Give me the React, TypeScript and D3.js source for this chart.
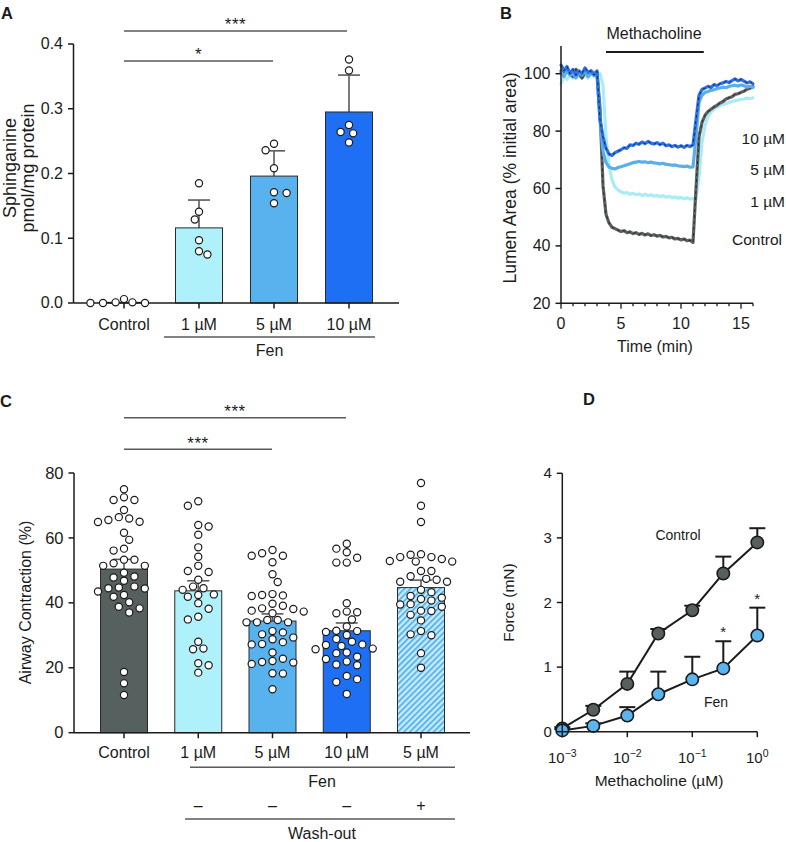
import React from "react";
import * as d3 from "d3";

const FONT = "'Liberation Sans', Arial, Helvetica, sans-serif";
const INK = "#1b1b1b";
const ERR = "#5a5a5a";

// ---------------- Panel A data ----------------
const A_LABELS = ["Control", "1 µM", "5 µM", "10 µM"];
const A_MEAN = [0.001, 0.116, 0.196, 0.295];
const A_SD = [0, 0.043, 0.039, 0.057];
const A_PTS_CONTROL = [0.0, 0.006, 0.0, 0.001, 0.0, 0.001];
const A_PTS_1UM = [0.185, 0.141, 0.129, 0.097, 0.075, 0.08];
const A_PTS_5UM = [0.236, 0.246, 0.208, 0.171, 0.17, 0.154];
const A_PTS_10UM = [0.376, 0.359, 0.275, 0.264, 0.262, 0.248];
const A_TICKS = [0, 0.1, 0.2, 0.3, 0.4];

// ---------------- Panel B data ----------------
const B_TIME = [
  0, 0.25, 0.5, 0.75, 1, 1.25, 1.5, 1.75, 2, 2.25, 2.5, 2.75, 3, 3.25, 3.5, 3.75,
  4, 4.25, 4.5, 4.75, 5, 5.25, 5.5, 5.75, 6, 6.25, 6.5, 6.75, 7, 7.25, 7.5, 7.75,
  8, 8.25, 8.5, 8.75, 9, 9.25, 9.5, 9.75, 10, 10.25, 10.5, 10.75, 11, 11.25, 11.5, 11.75,
  12, 12.25, 12.5, 12.75, 13, 13.25, 13.5, 13.75, 14, 14.25, 14.5, 14.75, 15, 15.25, 15.5, 15.75, 16,
];
const B_CONTROL = [
  101, 99.5, 102, 100, 99, 101.5, 100, 98.5, 100.5, 99.5, 101, 100, 100.5, 88, 61, 51,
  48, 46.5, 46, 45.5, 45, 45.3, 44.6, 44.9, 44.3, 44.6, 44, 44.4, 43.8, 44.2, 43.6, 43.9,
  43.4, 43.7, 43.1, 43.3, 42.8, 43, 42.4, 42.6, 42.1, 42.4, 41.8, 42, 41.2, 60, 78, 83,
  85.5, 86.8, 87.6, 88.4, 89, 89.8, 90.3, 91.2, 91.6, 92, 92.8, 93, 93.5, 93.9, 94.6, 94.9, 95.5,
];
const B_10UM = [
  103, 101, 102.5, 100, 101.5, 99.5, 101, 100, 102, 100.5, 101, 99.5, 101, 84, 78, 74,
  72, 71.5, 72.5, 73, 73.5, 74.2, 74, 75.2, 75, 75.8, 75.4, 76.2, 75.6, 76.4, 75.8, 75.5,
  76, 75.3, 75.8, 74.9, 75.2, 74.6, 75, 74.4, 74.9, 74.3, 75, 74.6, 75.2, 84, 92.5, 94.5,
  95, 95.6, 95.2, 96.2, 95.8, 96.5, 96.8, 97.3, 96.9, 97.6, 98.2, 97.5, 98, 97.4, 96.8, 97.2, 96.5,
];
const B_5UM = [
  100.5, 99, 101, 99.5, 100, 98.5, 100.5, 99.5, 101, 99, 100, 100.5, 99.5, 84, 73, 69,
  67.5, 67, 66.8, 67.3, 67.6, 67.9, 68.3, 68.6, 69, 69.2, 69.4, 69.2, 69.3, 69, 69.2, 68.9,
  68.8, 68.6, 68.8, 68.4, 68.3, 68.1, 68.2, 67.9, 67.8, 67.6, 67.8, 67.4, 67.5, 78, 90, 92.5,
  93.5, 93.8, 94.2, 94.4, 94.8, 95, 95.3, 95.1, 95.6, 95.8, 96, 95.7, 96.1, 95.8, 95.4, 95.6, 95.2,
];
const B_1UM = [
  96.5, 99, 98, 99.5, 98.5, 100, 99, 98.5, 99.5, 98.5, 100, 99, 99.5, 100, 96, 78,
  68, 63, 60.5, 59.5, 58.8, 58.4, 58.6, 58, 58.3, 57.8, 58.1, 57.6, 58, 57.5, 57.8, 57.3,
  57.6, 57.2, 57.5, 57, 57.3, 56.8, 57.1, 56.6, 56.9, 56.4, 56.8, 56.3, 56.5, 56.2, 64, 76,
  82, 85, 86.6, 87.6, 88.3, 88.9, 89.3, 89.6, 90, 90.3, 90.6, 90.8, 91, 91.2, 91.5, 91.3, 91.6,
];
const B_YTICKS = [20, 40, 60, 80, 100];
const B_XTICKS = [0, 5, 10, 15];
const B_XMINOR = [0, 1, 2, 3, 4, 5, 6, 7, 8, 9, 10, 11, 12, 13, 14, 15, 16];
const B_STIM = [3.75, 11.9];

// ---------------- Panel C data ----------------
const C_LABELS = ["Control", "1 µM", "5 µM", "10 µM", "5 µM"];
const C_WASH = ["", "–", "–", "–", "+"];
const C_MEAN = [50.4, 43.7, 34.4, 31.4, 44.7];
const C_SEM = [3.0, 3.1, 2.2, 2.4, 2.3];
const C_PTS_CONTROL = [75.0, 71.7, 71.7, 72.5, 68.6, 65.5, 66.4, 65.0, 66.0, 64.9, 61.6, 59.4, 56.7, 56.1, 53.3, 52.2, 51.4, 51.4, 53.3, 49.3, 47.8, 48.1, 46.8, 44.7, 44.5, 43.5, 45.0, 44.4, 41.9, 40.2, 42.4, 38.3, 37.0, 38.8, 18.7, 15.2, 11.6];
const C_PTS_1UM = [69.9, 71.3, 63.5, 64.0, 61.0, 57.1, 54.2, 51.4, 49.5, 49.8, 47.1, 44.5, 45.0, 44.0, 41.9, 42.6, 42.4, 39.9, 38.2, 35.7, 34.9, 28.0, 25.7, 25.9, 21.4, 20.8, 18.5];
const C_PTS_5UM = [54.5, 56.3, 55.3, 54.5, 52.5, 48.8, 46.4, 42.1, 42.7, 42.3, 42.4, 39.1, 39.7, 38.3, 36.8, 38.1, 37.6, 37.3, 34.7, 34.7, 34.0, 34.0, 34.0, 31.3, 30.3, 30.9, 29.3, 28.8, 27.9, 27.2, 27.3, 24.7, 21.6, 21.8, 21.2, 22.1, 22.8, 18.3, 18.2, 13.4];
const C_PTS_10UM = [58.2, 56.7, 55.6, 53.9, 52.4, 52.4, 39.9, 36.8, 37.1, 37.3, 34.9, 32.7, 31.4, 30.1, 31.3, 31.0, 27.0, 28.9, 26.7, 25.9, 27.2, 28.0, 24.7, 25.7, 23.4, 24.5, 22.7, 21.0, 20.8, 21.9, 17.5, 16.5, 15.6, 11.9];
const C_PTS_WASH = [76.9, 69.9, 64.9, 54.1, 53.5, 55.0, 54.8, 52.7, 52.7, 52.9, 54.1, 49.8, 49.8, 47.1, 47.4, 48.2, 46.5, 46.5, 44.0, 43.3, 40.7, 41.2, 41.6, 42.1, 39.6, 38.8, 39.5, 37.6, 37.5, 36.3, 34.6, 30.3, 31.3, 30.0, 24.5, 20.0];
const C_TICKS = [0, 20, 40, 60, 80];

// ---------------- Panel D data ----------------
const D_CONC = [0.001, 0.003, 0.01, 0.03, 0.1, 0.3, 1];
const D_CONTROL = [0.05, 0.34, 0.74, 1.52, 1.88, 2.45, 2.93];
const D_CONTROL_SEM = [0.02, 0.06, 0.19, 0.07, 0.07, 0.26, 0.22];
const D_FEN = [0.02, 0.09, 0.25, 0.58, 0.81, 0.98, 1.49];
const D_FEN_SEM = [0.02, 0.04, 0.13, 0.35, 0.35, 0.42, 0.43];
const D_STARS = [0.3, 1];
const D_YTICKS = [0, 1, 2, 3, 4];
const D_XTICKS = [0.001, 0.01, 0.1, 1];

// ---------------- styles ----------------
const A_COLORS = ["#56605f", "#aef1fb", "#58b2ee", "#1f6ff4"];
const C_COLORS = ["#56605f", "#aef1fb", "#58b2ee", "#1f6ff4", "url(#hatch)"];
const B_COLORS = { control: "#5b6060", u1: "#a9ecf7", u5: "#5aaee9", u10: "#2b72ea" };
const D_COLORS = { control: "#56605f", fen: "#5ab4ee" };

type Placed = { v: number; y: number; dx: number };

function swarm(values: number[], y: (v: number) => number, minDist: number, step: number): Placed[] {
  const pts = values.map((v) => ({ v, y: y(v) })).sort((a, b) => a.y - b.y);
  const placed: Placed[] = [];
  let flip = false;
  for (const p of pts) {
    let best: number | null = null;
    for (let k = 0; k < 60 && best === null; k++) {
      const cands = k === 0 ? [0] : flip ? [k * step, -k * step] : [-k * step, k * step];
      for (const c of cands) {
        const ok = placed.every((q) => (q.dx - c) ** 2 + (q.y - p.y) ** 2 >= minDist * minDist);
        if (ok) {
          best = c;
          break;
        }
      }
    }
    if (best !== 0) flip = !flip;
    placed.push({ v: p.v, y: p.y, dx: best as number });
  }
  return placed;
}

function YAxis(props: { scale: d3.ScaleLinear<number, number>; x: number; ticks: number[]; fmt: (v: number) => string; fs: number; top?: number }) {
  const { scale, x, ticks, fmt, fs, top } = props;
  const [y0, y1] = scale.range();
  return (
    <g>
      <line x1={x} x2={x} y1={y0} y2={top ?? y1} stroke={INK} strokeWidth={1.5} />
      {ticks.map((t) => (
        <g key={t}>
          <line x1={x - 5.5} x2={x} y1={scale(t)} y2={scale(t)} stroke={INK} strokeWidth={1.5} />
          <text x={x - 10.5} y={scale(t)} dy="0.34em" textAnchor="end" fontSize={fs}>
            {fmt(t)}
          </text>
        </g>
      ))}
    </g>
  );
}

function Stars(props: { x: number; y: number; n: number; fs?: number }) {
  return (
    <text x={props.x} y={props.y} textAnchor="middle" fontSize={props.fs ?? 17} letterSpacing={0.5}>
      {"*".repeat(props.n)}
    </text>
  );
}

export default function App() {
  // ---------- Panel A ----------
  const aY = d3.scaleLinear().domain([0, 0.4]).range([303, 44]);
  const aX = d3.scalePoint<string>().domain(A_LABELS.map((_, i) => String(i))).range([124, 349]);
  const aPts = [A_PTS_CONTROL, A_PTS_1UM, A_PTS_5UM, A_PTS_10UM];
  const aBarW = 47;

  // ---------- Panel B ----------
  const bX = d3.scaleLinear().domain([0, 16]).range([561, 753]);
  const bY = d3.scaleLinear().domain([20, 100]).range([303.3, 73.7]);
  const bLine = (vals: number[]) =>
    d3
      .line<number>()
      .x((_, i) => bX(B_TIME[i]))
      .y((v) => bY(v))(vals) as string;

  // ---------- Panel C ----------
  const cY = d3.scaleLinear().domain([0, 80]).range([732.7, 473]);
  const cX = d3.scalePoint<string>().domain(C_LABELS.map((_, i) => String(i))).range([124, 421]);
  const cPts = [C_PTS_CONTROL, C_PTS_1UM, C_PTS_5UM, C_PTS_10UM, C_PTS_WASH];
  const cBarW = 47;

  // ---------- Panel D ----------
  const dX = d3.scaleLog().domain([0.001, 1]).range([562.3, 757.3]);
  const dY = d3.scaleLinear().domain([0, 4]).range([731.7, 473.3]);
  const dLine = (vals: number[]) =>
    d3
      .line<number>()
      .x((_, i) => dX(D_CONC[i]))
      .y((v) => dY(v))(vals) as string;

  return (
    <svg
      width={786}
      height={842}
      viewBox="0 0 786 842"
      style={{ position: "absolute", left: 0, top: 0, background: "#fff" }}
      fontFamily={FONT}
      fill={INK}
    >
      <defs>
        <pattern id="hatch" patternUnits="userSpaceOnUse" width={4.2} height={4.2} patternTransform="rotate(45)">
          <rect width={4.2} height={4.2} fill="#c4ebfb" />
          <rect width={1.9} height={4.2} fill="#5cb4ee" />
        </pattern>
      </defs>
      <rect x={0} y={0} width={786} height={842} fill="#fff" />

      {/* ================= Panel A ================= */}
      <text x={1} y={18.5} fontSize={16.5} fontWeight="bold">A</text>
      <g>
        {A_MEAN.map((m, i) => {
          const cx = aX(String(i)) as number;
          return (
            <g key={i}>
              {A_SD[i] > 0 && (
                <g stroke={ERR} strokeWidth={1.6}>
                  <line x1={cx} x2={cx} y1={aY(m)} y2={aY(m + A_SD[i])} />
                  <line x1={cx - 11} x2={cx + 11} y1={aY(m + A_SD[i])} y2={aY(m + A_SD[i])} />
                </g>
              )}
              <rect x={cx - aBarW / 2} y={aY(m)} width={aBarW} height={aY(0) - aY(m)} fill={A_COLORS[i]} stroke="#2a2a2a" strokeWidth={1} />
            </g>
          );
        })}
        <YAxis scale={aY} x={73.5} ticks={A_TICKS} fmt={d3.format(".1f")} fs={16} />
        <line x1={73.5} x2={399} y1={aY(0)} y2={aY(0)} stroke={INK} strokeWidth={1.5} />
        {A_LABELS.map((l, i) => {
          const cx = aX(String(i)) as number;
          return (
            <g key={l}>
              <line x1={cx} x2={cx} y1={aY(0)} y2={aY(0) + 5.5} stroke={INK} strokeWidth={1.5} />
              <text x={cx} y={329.5} textAnchor="middle" fontSize={16}>{l}</text>
            </g>
          );
        })}
        {aPts.map((vals, i) => {
          const cx = aX(String(i)) as number;
          return swarm(vals, aY, 8.6, 4.2).map((p, j) => (
            <circle key={`${i}-${j}`} cx={cx + p.dx} cy={p.y} r={3.6} fill="#fff" stroke={INK} strokeWidth={1.2} />
          ));
        })}
        <line x1={164} x2={375} y1={337} y2={337} stroke={ERR} strokeWidth={1.5} />
        <text x={269.5} y={355.5} textAnchor="middle" fontSize={16}>Fen</text>
        <g transform="translate(15.5,168) rotate(-90)">
          <text textAnchor="middle" fontSize={18}>Sphinganine</text>
        </g>
        <g transform="translate(33.5,168) rotate(-90)">
          <text textAnchor="middle" fontSize={18}>pmol/mg protein</text>
        </g>
        <line x1={124} x2={347} y1={31} y2={31} stroke={ERR} strokeWidth={1.5} />
        <Stars x={235.5} y={29.5} n={3} />
        <line x1={124} x2={273} y1={61} y2={61} stroke={ERR} strokeWidth={1.5} />
        <Stars x={198.5} y={59.5} n={1} />
      </g>

      {/* ================= Panel B ================= */}
      <text x={500} y={18.5} fontSize={16.5} fontWeight="bold">B</text>
      <g>
        <text x={654} y={39.3} textAnchor="middle" fontSize={16}>Methacholine</text>
        <line x1={bX(B_STIM[0])} x2={bX(B_STIM[1])} y1={52} y2={52} stroke={INK} strokeWidth={1.8} />
        <g fill="none" strokeLinejoin="round" strokeLinecap="round">
          <path d={bLine(B_1UM)} stroke={B_COLORS.u1} strokeWidth={3.2} />
          <path d={bLine(B_CONTROL)} stroke={B_COLORS.control} strokeWidth={3.2} />
          <path d={bLine(B_CONTROL)} stroke="#111" strokeWidth={1} strokeDasharray="2 4" opacity={0.7} />
          <path d={bLine(B_5UM)} stroke={B_COLORS.u5} strokeWidth={3.2} />
          <path d={bLine(B_10UM)} stroke={B_COLORS.u10} strokeWidth={3.2} />
          <path d={bLine(B_10UM)} stroke="#111" strokeWidth={1} strokeDasharray="2 4" opacity={0.75} />
        </g>
        <YAxis scale={bY} x={561} ticks={B_YTICKS} fmt={d3.format("d")} fs={16} top={46} />
        <line x1={561} x2={bX(16)} y1={bY(20)} y2={bY(20)} stroke={INK} strokeWidth={1.5} />
        {B_XMINOR.map((t) => (
          <line key={t} x1={bX(t)} x2={bX(t)} y1={bY(20)} y2={bY(20) + (B_XTICKS.includes(t) ? 5.5 : 3)} stroke={INK} strokeWidth={1.3} />
        ))}
        {B_XTICKS.map((t) => (
          <text key={t} x={bX(t)} y={328.5} textAnchor="middle" fontSize={16}>{t}</text>
        ))}
        <text x={655} y={352} textAnchor="middle" fontSize={16}>Time (min)</text>
        <g transform="translate(516,178) rotate(-90)">
          <text textAnchor="middle" fontSize={17.5}>Lumen Area (% initial area)</text>
        </g>
        <text x={785} y={143.5} textAnchor="end" fontSize={15.5}>10 µM</text>
        <text x={785} y={175} textAnchor="end" fontSize={15.5}>5 µM</text>
        <text x={785} y={206.7} textAnchor="end" fontSize={15.5}>1 µM</text>
        <text x={782} y={245} textAnchor="end" fontSize={15.5}>Control</text>
      </g>

      {/* ================= Panel C ================= */}
      <text x={0} y={407} fontSize={16.5} fontWeight="bold">C</text>
      <g>
        {C_MEAN.map((m, i) => {
          const cx = cX(String(i)) as number;
          return (
            <g key={i}>
              <g stroke={ERR} strokeWidth={1.6}>
                <line x1={cx} x2={cx} y1={cY(m)} y2={cY(m + C_SEM[i])} />
                <line x1={cx - 11} x2={cx + 11} y1={cY(m + C_SEM[i])} y2={cY(m + C_SEM[i])} />
              </g>
              <rect x={cx - cBarW / 2} y={cY(m)} width={cBarW} height={cY(0) - cY(m)} fill={C_COLORS[i]} stroke="#2a2a2a" strokeWidth={1} />
            </g>
          );
        })}
        {cPts.map((vals, i) => {
          const cx = cX(String(i)) as number;
          return swarm(vals, cY, 8.1, 5.2).map((p, j) => (
            <circle key={`${i}-${j}`} cx={cx + p.dx} cy={p.y} r={3.6} fill="#fff" stroke={INK} strokeWidth={1.2} />
          ));
        })}
        <YAxis scale={cY} x={74} ticks={C_TICKS} fmt={d3.format("d")} fs={16.5} />
        <line x1={74} x2={470} y1={cY(0)} y2={cY(0)} stroke={INK} strokeWidth={1.5} />
        {C_LABELS.map((l, i) => {
          const cx = cX(String(i)) as number;
          return (
            <g key={i}>
              <line x1={cx} x2={cx} y1={cY(0)} y2={cY(0) + 5.5} stroke={INK} strokeWidth={1.5} />
              <text x={cx} y={758} textAnchor="middle" fontSize={16}>{l}</text>
              {C_WASH[i] && (
                <text x={cx} y={810.5} textAnchor="middle" fontSize={16}>{C_WASH[i]}</text>
              )}
            </g>
          );
        })}
        <line x1={190} x2={455} y1={767.3} y2={767.3} stroke={ERR} strokeWidth={1.5} />
        <text x={322} y={786.5} textAnchor="middle" fontSize={16}>Fen</text>
        <line x1={185} x2={455} y1={819} y2={819} stroke={ERR} strokeWidth={1.5} />
        <text x={322} y={838.5} textAnchor="middle" fontSize={16}>Wash-out</text>
        <g transform="translate(30.5,602.5) rotate(-90)">
          <text textAnchor="middle" fontSize={16}>Airway Contraction (%)</text>
        </g>
        <line x1={124} x2={346} y1={417.7} y2={417.7} stroke={ERR} strokeWidth={1.5} />
        <Stars x={235} y={416.5} n={3} />
        <line x1={124} x2={272} y1={449.3} y2={449.3} stroke={ERR} strokeWidth={1.5} />
        <Stars x={198} y={448.5} n={3} />
      </g>

      {/* ================= Panel D ================= */}
      <text x={583} y={405} fontSize={16.5} fontWeight="bold">D</text>
      <g>
        {[
          { vals: D_CONTROL, sem: D_CONTROL_SEM, color: D_COLORS.control },
          { vals: D_FEN, sem: D_FEN_SEM, color: D_COLORS.fen },
        ].map((s, si) => (
          <g key={si}>
            <g stroke={INK} strokeWidth={2}>
              {s.vals.map((v, i) => {
                const x = dX(D_CONC[i]);
                const yt = dY(v + s.sem[i]);
                return (
                  <g key={i}>
                    <line x1={x} x2={x} y1={dY(v)} y2={yt} />
                    <line x1={x - 8} x2={x + 8} y1={yt} y2={yt} />
                  </g>
                );
              })}
            </g>
            <path d={dLine(s.vals)} fill="none" stroke={INK} strokeWidth={2} />
            {s.vals.map((v, i) => (
              <circle key={i} cx={dX(D_CONC[i])} cy={dY(v)} r={6.2} fill={s.color} stroke={INK} strokeWidth={1.6} />
            ))}
          </g>
        ))}
        {D_STARS.map((c) => {
          const i = D_CONC.indexOf(c);
          return <Stars key={c} x={dX(c)} y={dY(D_FEN[i] + D_FEN_SEM[i]) - 4} n={1} fs={15} />;
        })}
        <YAxis scale={dY} x={562.3} ticks={D_YTICKS} fmt={d3.format("d")} fs={15} />
        <line x1={562.3} x2={757.3} y1={dY(0)} y2={dY(0)} stroke={INK} strokeWidth={1.5} />
        {D_XTICKS.map((t) => {
          const x = dX(t);
          const e = Math.round(Math.log10(t));
          return (
            <g key={t}>
              <line x1={x} x2={x} y1={dY(0)} y2={dY(0) + 5.5} stroke={INK} strokeWidth={1.5} />
              <text x={x} y={763} textAnchor="middle" fontSize={15}>
                10
                <tspan fontSize={10.5} dy={-6.5}>{e < 0 ? `−${-e}` : `${e}`}</tspan>
              </text>
            </g>
          );
        })}
        <text x={659} y={785.5} textAnchor="middle" fontSize={15.5}>Methacholine (µM)</text>
        <g transform="translate(514,602.5) rotate(-90)">
          <text textAnchor="middle" fontSize={15.5}>Force (mN)</text>
        </g>
        <text x={678} y={540} textAnchor="middle" fontSize={14}>Control</text>
        <text x={716} y={706.5} textAnchor="middle" fontSize={14}>Fen</text>
      </g>
    </svg>
  );
}
